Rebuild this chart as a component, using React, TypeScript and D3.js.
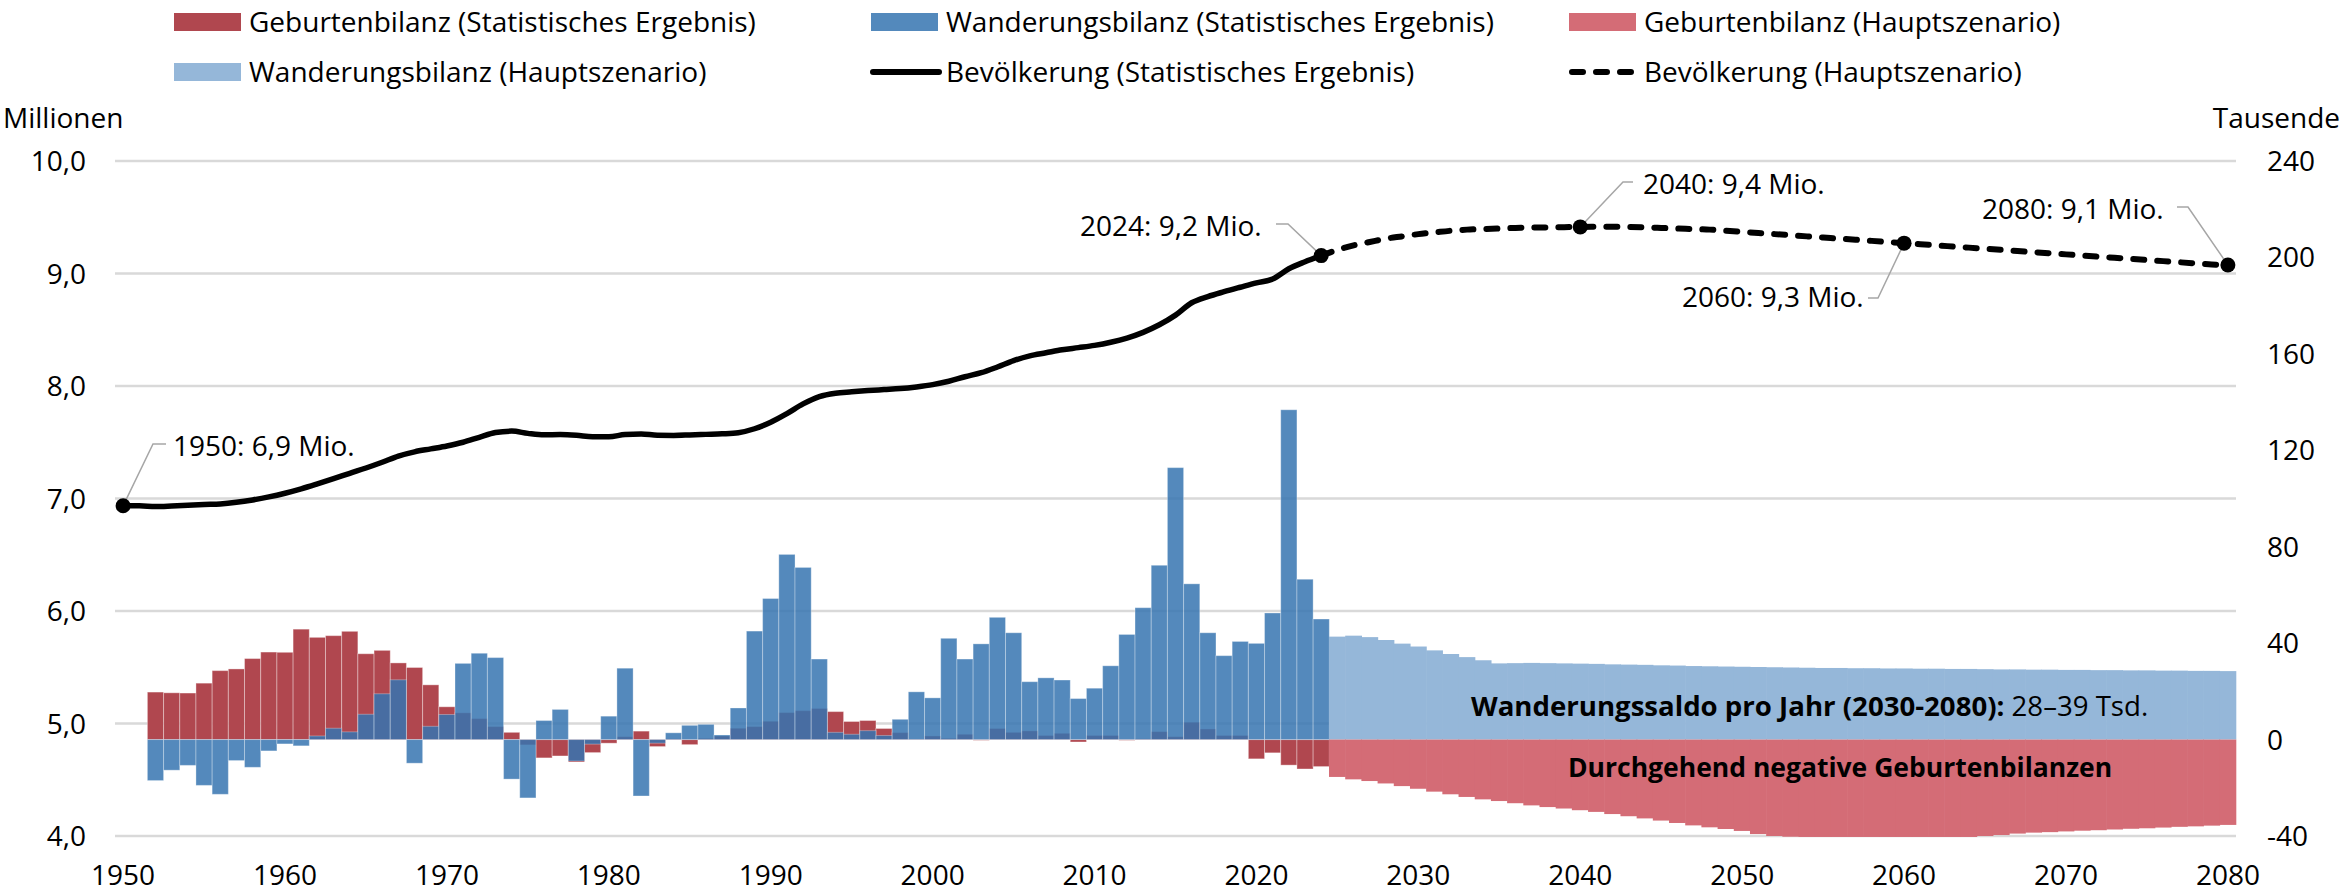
import React from 'react';
import * as d3 from 'd3';

const W = 2349;
const H = 894;
const FONT = "'Open Sans', sans-serif";

// population in millions (annual), 1950-2024 statistical result
const popHistStart = 1950;
const popHist = [
  6.935, 6.935, 6.928, 6.933, 6.94, 6.947, 6.952, 6.966, 6.987, 7.014,
  7.047, 7.086, 7.13, 7.176, 7.224, 7.271, 7.322, 7.377, 7.415, 7.441,
  7.467, 7.5, 7.544, 7.586, 7.599, 7.579, 7.566, 7.568, 7.562, 7.549,
  7.549, 7.569, 7.574, 7.562, 7.561, 7.565, 7.57, 7.575, 7.585, 7.62,
  7.678, 7.755, 7.841, 7.906, 7.936, 7.948, 7.959, 7.968, 7.977, 7.992,
  8.012, 8.042, 8.082, 8.118, 8.169, 8.225, 8.268, 8.295, 8.322, 8.341,
  8.361, 8.389, 8.426, 8.477, 8.544, 8.63, 8.74, 8.795, 8.838, 8.878,
  8.917, 8.951, 9.042, 9.105, 9.159,
];

// population projection (Hauptszenario), 2024-2080
const popProjStart = 2024;
const popProj = [
  9.159, 9.21, 9.25, 9.28, 9.31, 9.33, 9.35, 9.365, 9.38, 9.39,
  9.395, 9.4, 9.405, 9.41, 9.41, 9.412, 9.414, 9.415, 9.415, 9.413,
  9.41, 9.405, 9.4, 9.395, 9.39, 9.38, 9.37, 9.36, 9.35, 9.34,
  9.33, 9.32, 9.31, 9.3, 9.29, 9.28, 9.27, 9.26, 9.25, 9.24,
  9.23, 9.22, 9.21, 9.2, 9.19, 9.18, 9.17, 9.16, 9.15, 9.14,
  9.13, 9.12, 9.11, 9.1, 9.09, 9.08, 9.075,
];

// thousands, 1952-2024
const barHistStart = 1952;
const birthHist = [
  19.7, 19.4, 19.3, 23.4, 28.6, 29.3, 33.6, 36.3, 36.2, 45.8,
  42.4, 43.1, 44.9, 35.6, 37.0, 31.8, 29.9, 22.7, 13.6, 11.1,
  8.7, 5.4, 3.0, -2.2, -7.6, -6.8, -9.3, -5.4, -1.5, 1.2,
  3.5, -2.9, 0.3, -2.1, 0.5, 1.5, 4.7, 5.4, 7.6, 11.2,
  12.0, 12.9, 11.6, 7.5, 7.9, 4.6, 2.9, 0.2, 1.5, 0.5,
  2.2, -0.3, 4.6, 3.0, 3.6, 1.7, 2.6, -1.0, 1.7, 1.7,
  -0.3, 0.3, 3.3, 1.2, 7.2, 4.4, 1.7, 1.7, -8.0, -5.5,
  -10.6, -12.2, -11.2,
];
const migHist = [
  -17.0, -12.7, -10.7, -19.0, -22.7, -8.7, -11.5, -4.7, -1.8, -2.6,
  1.5, 4.7, 3.2, 10.5, 19.0, 24.8, -9.8, 5.5, 10.4, 31.6,
  35.8, 34.0, -16.4, -24.2, 7.9, 12.5, -8.9, -1.9, 9.7, 29.6,
  -23.4, -1.5, 2.8, 5.9, 6.3, 1.9, 13.1, 45.0, 58.5, 76.8,
  71.4, 33.4, 3.0, 2.2, 3.7, 1.7, 8.4, 19.8, 17.3, 42.0,
  33.4, 39.7, 50.7, 44.3, 24.0, 25.6, 24.7, 17.0, 21.3, 30.6,
  43.6, 54.7, 72.3, 112.8, 64.6, 44.3, 34.8, 40.7, 39.9, 52.5,
  136.8, 66.5, 50.0,
];

// thousands, 2025-2080 (Hauptszenario)
const barProjStart = 2025;
const migProj = [
  42.7, 43.1, 42.5, 41.3, 39.8, 38.6, 37.0, 35.5, 34.2, 32.9,
  31.6, 31.7, 31.8, 31.7, 31.6, 31.5, 31.4, 31.2, 31.1, 31.0,
  30.8, 30.7, 30.5, 30.4, 30.3, 30.2, 30.1, 30.0, 29.9, 29.8,
  29.7, 29.7, 29.6, 29.6, 29.5, 29.5, 29.4, 29.4, 29.3, 29.3,
  29.2, 29.1, 29.1, 29.0, 29.0, 28.9, 28.9, 28.8, 28.8, 28.7,
  28.7, 28.6, 28.6, 28.5, 28.5, 28.4,
];
const birthProj = [
  -15.5, -16.5, -17.2, -18.2, -19.3, -20.4, -21.6, -22.7, -23.8, -24.8,
  -25.5, -26.4, -27.3, -28.0, -28.6, -29.3, -30.0, -30.9, -31.8, -32.7,
  -33.6, -34.6, -35.6, -36.4, -37.1, -37.9, -39.2, -40.0, -40.3, -40.4,
  -40.4, -40.4, -40.4, -40.4, -40.4, -40.4, -40.4, -40.4, -40.4, -40.4,
  -40.0, -39.6, -39.0, -38.6, -38.4, -38.1, -37.8, -37.6, -37.3, -37.0,
  -36.8, -36.5, -36.2, -36.0, -35.7, -35.4,
];

const leftTicks = [4, 5, 6, 7, 8, 9, 10];
const rightTicks = [-40, 0, 40, 80, 120, 160, 200, 240];
const xTicks = [1950, 1960, 1970, 1980, 1990, 2000, 2010, 2020, 2030, 2040, 2050, 2060, 2070, 2080];

const callouts = [
  { year: 1950, text: '1950: 6,9 Mio.', tx: 173, ty: 456, path: [[153, 444], [166, 444]] },
  { year: 2024, text: '2024: 9,2 Mio.', tx: 1080, ty: 236, path: [[1288, 224], [1276, 224]] },
  { year: 2040, text: '2040: 9,4 Mio.', tx: 1643, ty: 194, path: [[1623, 182], [1633, 182]] },
  { year: 2060, text: '2060: 9,3 Mio.', tx: 1682, ty: 307, path: [[1878, 298], [1868, 298]] },
  { year: 2080, text: '2080: 9,1 Mio.', tx: 1982, ty: 219, path: [[2188, 207], [2177, 207]] },
];

const COL = {
  birth: '#B0474F',
  mig: '#3674B0',
  migProj: '#95B7D9',
  birthProj: '#D46C76',
  grid: '#D9D9D9',
  text: '#000000',
};

const legend = [
  { kind: 'rect', color: COL.birth, label: 'Geburtenbilanz (Statistisches Ergebnis)', x: 174, y: 22 },
  { kind: 'rect', color: '#5389BC', label: 'Wanderungsbilanz (Statistisches Ergebnis)', x: 871, y: 22 },
  { kind: 'rect', color: COL.birthProj, label: 'Geburtenbilanz (Hauptszenario)', x: 1569, y: 22 },
  { kind: 'rect', color: COL.migProj, label: 'Wanderungsbilanz (Hauptszenario)', x: 174, y: 72 },
  { kind: 'line', color: '#000', label: 'Bevölkerung (Statistisches Ergebnis)', x: 871, y: 72 },
  { kind: 'dash', color: '#000', label: 'Bevölkerung (Hauptszenario)', x: 1569, y: 72 },
];

export default function App() {
  const years = d3.range(1950, 2081).map(String);
  const x = d3.scaleBand<string>().domain(years).range([115, 2236]).padding(0);
  const bw = x.bandwidth();
  const cx = (yr: number) => (x(String(yr)) as number) + bw / 2;
  const yL = d3.scaleLinear().domain([4, 10]).range([836, 161]);
  const yR = d3.scaleLinear().domain([-40, 240]).range([836, 161]);
  const y0 = yR(0);

  const bar = (v: number) => ({ y: Math.min(y0, yR(v)), h: Math.abs(yR(v) - y0) });

  const line = d3
    .line<[number, number]>()
    .x((d) => cx(d[0]))
    .y((d) => yL(d[1]))
    .curve(d3.curveMonotoneX);

  const histPts = popHist.map((v, i) => [popHistStart + i, v] as [number, number]);
  const projPts = popProj.map((v, i) => [popProjStart + i, v] as [number, number]);
  const popAt = (yr: number) =>
    yr <= 2024 ? popHist[yr - popHistStart] : popProj[yr - popProjStart];

  return (
    <svg
      width={W}
      height={H}
      style={{ position: 'absolute', left: 0, top: 0, background: '#fff' }}
      fontFamily={FONT}
      fontSize={28}
    >
      {/* gridlines */}
      {leftTicks.map((t) => (
        <line key={t} x1={115} x2={2236} y1={yL(t)} y2={yL(t)} stroke={COL.grid} strokeWidth={2.5} />
      ))}

      {/* historic bars */}
      {birthHist.map((v, i) => {
        const b = bar(v);
        return (
          <rect key={'bh' + i} x={x(String(barHistStart + i))} y={b.y} width={bw} height={b.h}
            fill={COL.birth} stroke="#fff" strokeOpacity={0.35} strokeWidth={1} />
        );
      })}
      {migHist.map((v, i) => {
        const b = bar(v);
        return (
          <rect key={'mh' + i} x={x(String(barHistStart + i))} y={b.y} width={bw} height={b.h}
            fill={COL.mig} fillOpacity={0.85} stroke="#fff" strokeOpacity={0.3} strokeWidth={1} />
        );
      })}

      {/* projected bars */}
      {migProj.map((v, i) => {
        const b = bar(v);
        return (
          <rect key={'mp' + i} x={(x(String(barProjStart + i)) as number) - 0.3} y={b.y} width={bw + 0.6} height={b.h}
            fill={COL.migProj} />
        );
      })}
      {birthProj.map((v, i) => {
        const b = bar(v);
        return (
          <rect key={'bp' + i} x={(x(String(barProjStart + i)) as number) - 0.3} y={b.y} width={bw + 0.6} height={b.h}
            fill={COL.birthProj} />
        );
      })}

      {/* in-chart notes */}
      <text x={1471} y={716} fill={COL.text} fontSize={27.6}>
        <tspan fontWeight="bold">Wanderungssaldo pro Jahr (2030-2080):</tspan>
        <tspan> 28–39 Tsd.</tspan>
      </text>
      <text x={1568} y={777} fill={COL.text} fontWeight="bold" fontSize={26.5}>
        Durchgehend negative Geburtenbilanzen
      </text>

      {/* population lines */}
      <path d={line(histPts) as string} fill="none" stroke="#000" strokeWidth={5.5} strokeLinejoin="round" />
      <path d={line(projPts) as string} fill="none" stroke="#000" strokeWidth={6}
        strokeDasharray="11 13" strokeLinecap="round" />

      {/* callouts */}
      {callouts.map((c) => {
        const px = cx(c.year);
        const py = yL(popAt(c.year));
        const pts = [[px, py], ...c.path];
        return (
          <g key={c.year}>
            <polyline points={pts.map((p) => p.join(',')).join(' ')} fill="none" stroke="#A6A6A6" strokeWidth={1.5} />
            <circle cx={px} cy={py} r={7.5} fill="#000" />
            <text x={c.tx} y={c.ty} fill={COL.text}>{c.text}</text>
          </g>
        );
      })}

      {/* left axis */}
      <text x={3} y={128} fill={COL.text}>Millionen</text>
      {leftTicks.map((t) => (
        <text key={t} x={86} y={yL(t) + 10} textAnchor="end" fill={COL.text}>
          {d3.format('.1f')(t).replace('.', ',')}
        </text>
      ))}

      {/* right axis */}
      <text x={2340} y={128} textAnchor="end" fill={COL.text}>Tausende</text>
      {rightTicks.map((t) => (
        <text key={t} x={2267} y={yR(t) + 10} fill={COL.text}>{String(t)}</text>
      ))}

      {/* x axis */}
      {xTicks.map((t) => (
        <text key={t} x={cx(t)} y={885} textAnchor="middle" fill={COL.text}>{t}</text>
      ))}

      {/* legend */}
      {legend.map((l) => (
        <g key={l.label}>
          {l.kind === 'rect' && <rect x={l.x} y={l.y - 9} width={67} height={18} fill={l.color} />}
          {l.kind === 'line' && (
            <line x1={l.x + 2} x2={l.x + 68} y1={l.y} y2={l.y} stroke="#000" strokeWidth={6} strokeLinecap="round" />
          )}
          {l.kind === 'dash' && (
            <line x1={l.x + 3} x2={l.x + 64} y1={l.y} y2={l.y} stroke="#000" strokeWidth={6}
              strokeLinecap="round" strokeDasharray="11 13" />
          )}
          <text x={l.x + 75} y={l.y + 10} fill={COL.text}>{l.label}</text>
        </g>
      ))}
    </svg>
  );
}
